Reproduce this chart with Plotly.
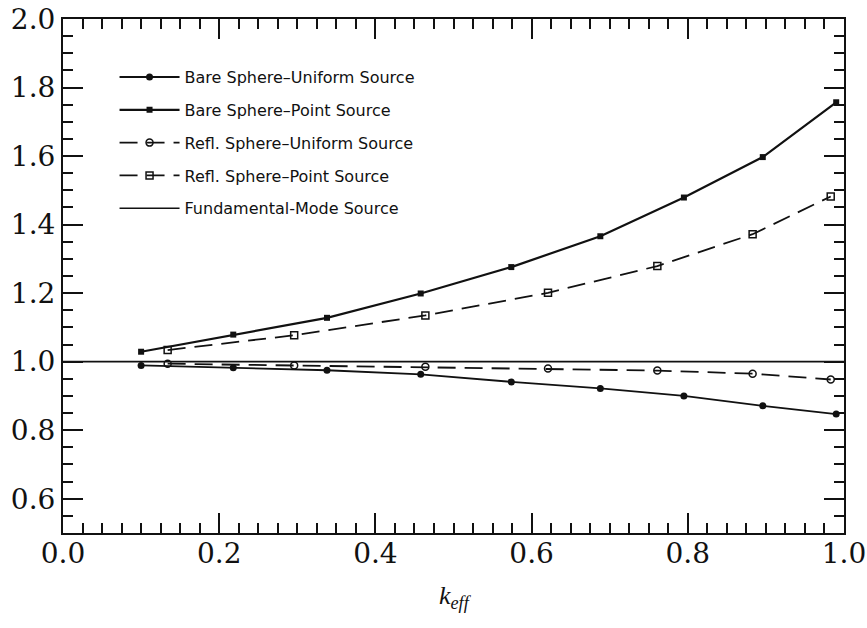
import plotly.graph_objects as go

# ---- data ----
k_bare = [0.100, 0.218, 0.338, 0.458, 0.574, 0.688, 0.795, 0.896, 0.990]
bare_uniform = [0.989, 0.982, 0.975, 0.963, 0.941, 0.922, 0.900, 0.871, 0.847]
bare_point = [1.029, 1.079, 1.128, 1.199, 1.276, 1.366, 1.479, 1.597, 1.757]

k_refl = [0.134, 0.296, 0.464, 0.621, 0.761, 0.883, 0.983]
refl_uniform = [0.994, 0.989, 0.985, 0.980, 0.974, 0.965, 0.948]
refl_point = [1.034, 1.077, 1.135, 1.201, 1.279, 1.372, 1.482]

k_fund = [0.0, 1.0]
fund = [1.0, 1.0]

names = ["Bare Sphere\u2013Uniform Source", "Bare Sphere\u2013Point Source",
         "Refl. Sphere\u2013Uniform Source", "Refl. Sphere\u2013Point Source",
         "Fundamental-Mode Source"]

ink = "#111111"
dash = "18px,9px"

fig = go.Figure()
fig.add_trace(go.Scatter(x=k_bare, y=bare_uniform, name=names[0], mode="lines+markers",
                         line=dict(color=ink, width=1.8),
                         marker=dict(symbol="circle", size=7, color=ink),
                         legendgroup="a"))
fig.add_trace(go.Scatter(x=k_bare, y=bare_point, name=names[1], mode="lines+markers",
                         line=dict(color=ink, width=2.2),
                         marker=dict(symbol="square", size=6, color=ink),
                         legendgroup="b"))
fig.add_trace(go.Scatter(x=k_refl, y=refl_uniform, name=names[2], mode="lines+markers",
                         line=dict(color=ink, width=1.8, dash=dash),
                         marker=dict(symbol="circle-open", size=7, color=ink, line=dict(width=1.5)),
                         legendgroup="c"))
fig.add_trace(go.Scatter(x=k_refl, y=refl_point, name=names[3], mode="lines+markers",
                         line=dict(color=ink, width=1.8, dash=dash),
                         marker=dict(symbol="square-open", size=7, color=ink, line=dict(width=1.5)),
                         legendgroup="d"))
fig.add_trace(go.Scatter(x=k_fund, y=fund, name=names[4], mode="lines",
                         line=dict(color=ink, width=1.6),
                         legendgroup="e"))

serif = "DejaVu Serif, Liberation Serif, serif"
axis_common = dict(
    showline=True, linecolor=ink, linewidth=2, mirror="ticks",
    ticks="inside", ticklen=20, tickwidth=2, tickcolor=ink,
    showgrid=False, zeroline=False, tickformat=".1f", automargin=False,
    tickfont=dict(family=serif, size=28, color=ink),
)
fig.update_xaxes(range=[0, 1], tick0=0, dtick=0.2, ticklabelstandoff=-6,
                 minor=dict(ticks="inside", ticklen=10, tickwidth=1.5, tickcolor=ink, dtick=0.025, showgrid=False),
                 **axis_common)
fig.update_yaxes(range=[0.5, 2.0], tick0=0, dtick=0.2,
                 minor=dict(ticks="inside", ticklen=10, tickwidth=1.5, tickcolor=ink, dtick=0.05, showgrid=False),
                 **axis_common)

fig.add_annotation(text="<i>k</i><sub><i>eff</i></sub>", xref="paper", yref="paper",
                   x=0.502, y=-0.125, yanchor="middle", showarrow=False,
                   font=dict(family="Liberation Serif, Times New Roman, serif", size=26, color=ink))

fig.update_layout(
    width=867, height=628,
    margin=dict(l=63, r=23, t=19, b=95),
    paper_bgcolor="white", plot_bgcolor="white",
    showlegend=True,
    legend=dict(x=0.066, y=0.92, xanchor="left", yanchor="top",
                bgcolor="rgba(0,0,0,0)", borderwidth=0,
                font=dict(family="DejaVu Sans, Liberation Sans, sans-serif", size=16, color=ink),
                traceorder="grouped", tracegroupgap=9, itemwidth=60),
)

fig.write_html("out.html", config={"displayModeBar": False},
               post_script="document.body.style.margin='0';")
